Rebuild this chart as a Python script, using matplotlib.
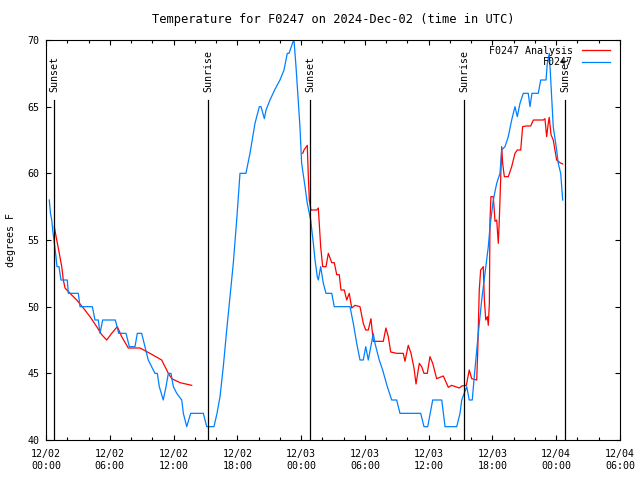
import numpy as np
import pandas as pd
import matplotlib
matplotlib.use("Agg")
import matplotlib.pyplot as plt
import matplotlib.dates as mdates

# hours since 2024-12-02 00:00 UTC
obs_hours = [0.31, 0.42, 0.54, 0.63, 0.78, 0.94, 1.03, 1.22, 1.41, 2.00, 2.10, 3.04, 3.20,
             4.36, 4.61, 4.92, 5.08, 5.33, 6.52, 6.84, 7.53, 7.84, 8.37, 8.59, 9.00, 9.31,
             9.62, 10.25, 10.47, 10.66, 11.03, 11.29, 11.51, 11.76, 11.98, 12.30, 12.77,
             12.92, 13.24, 13.61, 14.80, 15.12, 15.80, 16.09, 16.37, 16.68, 17.00, 17.31,
             17.62, 17.94, 18.25, 18.81, 19.19, 19.66, 20.07, 20.23, 20.54, 20.70, 21.07,
             21.54, 22.01, 22.39, 22.70, 22.86, 23.21, 23.33, 23.52, 23.73, 23.89, 24.05,
             24.37, 24.58, 24.90, 25.15, 25.31, 25.52, 25.62, 25.84, 26.09, 26.34, 26.88,
             27.12, 28.60, 28.91, 29.23, 29.54, 29.85, 30.08, 30.32, 30.79, 30.95, 31.35,
             31.67, 32.11, 32.52, 32.99, 33.30, 35.25, 35.56, 35.91, 36.38, 37.23, 37.54,
             38.64, 38.95, 39.11, 39.58, 39.82, 40.10, 40.29, 40.52, 40.67, 40.99, 41.30,
             41.61, 41.77, 42.08, 42.40, 42.71, 42.87, 43.18, 43.49, 43.81, 44.12, 44.34,
             44.59, 44.90, 45.37, 45.53, 45.72, 46.31, 46.54, 47.04, 47.16, 47.35, 47.57,
             47.72, 48.04, 48.19, 48.42, 48.61]
obs_temp = [58.0, 57.0, 56.5, 55.75, 54.75, 53.75, 53.0, 53.0, 52.0, 52.0, 51.0, 51.0, 50.0,
            50.0, 49.0, 49.0, 48.0, 49.0, 49.0, 48.0, 48.0, 47.0, 47.0, 48.0, 48.0, 47.0,
            46.0, 45.0, 45.0, 44.0, 43.0, 44.0, 45.0, 45.0, 44.0, 43.5, 43.0,
            42.0, 41.0, 42.0, 42.0, 41.0, 41.0, 42.0, 43.25, 45.5, 48.25, 50.75,
            53.25, 56.5, 60.0, 60.0, 61.5, 63.75, 65.0, 65.0, 64.1, 64.75, 65.5,
            66.3, 67.0, 67.75, 69.0, 69.0, 69.8, 70.0, 68.0, 65.5, 63.5, 60.75,
            59.0, 57.75, 56.5, 54.75, 53.5, 52.25, 52.0, 53.0, 51.75, 51.0, 51.0,
            50.0, 50.0, 48.75, 47.25, 46.0, 46.0, 47.0, 46.0, 48.0, 47.25, 46.0,
            45.25, 44.0, 43.0, 43.0, 42.0, 42.0, 41.0, 41.0, 43.0, 43.0, 41.0,
            41.0, 42.0, 43.0, 44.0, 43.0, 43.0, 44.75, 46.75, 48.0, 50.5, 52.5,
            54.5, 56.0, 58.0, 59.25, 60.0, 61.75, 62.0, 62.75, 64.0, 65.0, 64.25,
            65.25, 66.0, 66.0, 65.0, 66.0, 66.0, 67.0, 67.0, 68.25, 69.0, 65.75,
            63.5, 61.75, 60.75, 60.0, 58.0]

ana1_hours = [0.78, 1.01, 1.25, 1.48, 1.63, 1.79, 2.26, 2.89, 3.51, 4.14, 4.77, 5.24, 5.71,
              6.18, 6.71, 7.12, 7.74, 8.84, 9.78, 10.88, 11.51, 11.83, 12.61, 13.71]
ana1_temp = [56.0, 55.0, 54.0, 53.0, 52.0, 51.4, 51.0, 50.5, 49.9, 49.25, 48.5, 47.9, 47.5,
             48.0, 48.5, 47.75, 46.9, 46.9, 46.5, 46.0, 45.0, 44.6, 44.3, 44.1]

ana2_hours = [24.15, 24.27, 24.58, 24.68, 24.77, 24.93, 25.47, 25.62, 25.84, 26.03, 26.34,
              26.56, 26.88, 27.12, 27.35, 27.59, 27.75, 28.06, 28.29, 28.53, 28.76, 29.07,
              29.54, 29.85, 30.08, 30.32, 30.57, 30.79, 31.73, 31.98, 32.20, 32.43, 32.99,
              33.61, 33.77, 34.08, 34.34, 34.62, 34.81, 35.12, 35.34, 35.56, 35.87, 36.12,
              36.38, 36.75, 37.38, 37.85, 38.16, 38.88, 39.11, 39.54, 39.82, 40.05, 40.52,
              40.61, 40.76, 40.89, 41.14, 41.24, 41.37, 41.52, 41.61, 41.71, 41.77, 41.86,
              42.08, 42.24, 42.40, 42.55, 42.64, 42.77, 42.87, 42.96, 43.12, 43.49, 43.81,
              44.12, 44.34, 44.66, 44.84, 45.16, 45.60, 45.85, 46.79, 46.94, 47.10, 47.25,
              47.34, 47.51, 47.72, 48.04, 48.35, 48.61]
ana2_temp = [61.5, 61.75, 62.1, 59.75, 58.0, 57.25, 57.25, 57.4, 54.5, 53.0, 53.0,
             54.0, 53.3, 53.3, 52.4, 52.4, 51.25, 51.25, 50.5, 51.0, 49.9, 50.1,
             50.0, 48.75, 48.25, 48.25, 49.1, 47.4, 47.4, 48.4, 47.75, 46.6, 46.5,
             46.5, 45.9, 47.1, 46.5, 45.4, 44.2, 45.75, 45.5, 45.0, 45.0, 46.25,
             45.75, 44.6, 44.8, 43.95, 44.1, 43.9, 44.05, 44.1, 45.25, 44.6, 44.5,
             46.5, 51.25, 52.75, 53.0, 50.5, 49.0, 49.25, 48.6, 50.25, 56.5, 58.25,
             58.25, 56.4, 56.5, 54.75, 56.4, 59.5, 62.0, 60.75, 59.75, 59.75, 60.5,
             61.5, 61.75, 61.75, 63.5, 63.55, 63.55, 64.0, 64.0, 64.1, 62.75, 63.75,
             64.2, 62.9, 62.5, 61.0, 60.8, 60.7]

sun_hours = [0.78, 15.27, 24.84, 39.35, 48.85]
sun_labels = ["Sunset", "Sunrise", "Sunset", "Sunrise", "Sunset"]

base = pd.Timestamp("2024-12-02 00:00")


def to_time(hours):
    return base + pd.to_timedelta(np.asarray(hours), unit="h")


plt.rcParams["font.family"] = "DejaVu Sans Mono"
plt.rcParams["font.size"] = 7.2

fig = plt.figure(figsize=(6.4, 4.8), dpi=100)
ax = fig.add_axes([46 / 640, 40 / 480, 574 / 640, 400 / 480])

ax.plot(to_time(ana1_hours), ana1_temp, color="#ff0000", lw=0.9, label="F0247 Analysis")
ax.plot(to_time(ana2_hours), ana2_temp, color="#ff0000", lw=0.9)
ax.plot(to_time(obs_hours), obs_temp, color="#0080ff", lw=0.9, label="F0247")

for h, lab in zip(sun_hours, sun_labels):
    t = to_time([h])[0]
    ax.plot([t, t], [40, 65.5], color="black", lw=0.9)
    ax.text(t, 66.1, lab, rotation=90, ha="center", va="bottom")

ax.set_xlim(base, base + pd.Timedelta(hours=54))
ax.set_ylim(40, 70)
ax.set_yticks(np.arange(40, 71, 5))
ax.xaxis.set_major_locator(mdates.HourLocator(byhour=[0, 6, 12, 18]))
ax.xaxis.set_minor_locator(mdates.HourLocator(byhour=range(0, 24, 2)))
ax.xaxis.set_major_formatter(mdates.DateFormatter("%m/%d\n%H:%M"))

ax.tick_params(which="both", direction="in", top=True, right=True, width=0.8)
ax.tick_params(which="major", length=3.6)
ax.tick_params(which="minor", length=2.2)
ax.tick_params(axis="x", pad=6.5)
ax.tick_params(axis="y", pad=4.5)
for sp in ax.spines.values():
    sp.set_linewidth(0.8)

ax.set_title("Temperature for F0247 on 2024-Dec-02 (time in UTC)", pad=12)
ax.set_ylabel("degrees F")
ax.yaxis.set_label_coords(-0.052, 0.5)

ax.legend(loc="upper right", bbox_to_anchor=(0.9826, 0.985), frameon=False,
          markerfirst=False, handlelength=2.8, handletextpad=0.9,
          labelspacing=0.15, borderaxespad=0, borderpad=0)

fig.savefig("out.png", dpi=100)
